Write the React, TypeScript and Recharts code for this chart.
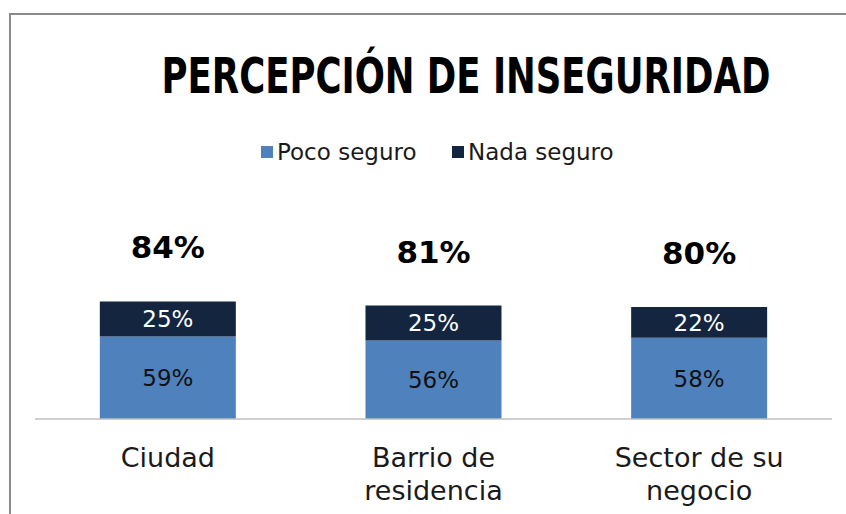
import React, { useLayoutEffect, useRef, useState } from 'react';
import { BarChart, Bar, XAxis, YAxis, LabelList, Legend } from 'recharts';

const categories = ['Ciudad', 'Barrio de residencia', 'Sector de su negocio'];
const categoryLines = [['Ciudad'], ['Barrio de', 'residencia'], ['Sector de su', 'negocio']];
const pocoSeguro = [59, 56, 58];
const nadaSeguro = [25, 25, 22];
const totals = [84, 81, 80];
const seriesNames = ['Poco seguro', 'Nada seguro'];
const seriesColors = ['#4F81BD', '#13253F'];
const title = 'PERCEPCIÓN DE INSEGURIDAD';

const data = categories.map((c, i) => ({
  name: c,
  poco: pocoSeguro[i],
  nada: nadaSeguro[i],
  total: totals[i],
}));

const FONT = "'DejaVu Sans', sans-serif";

const CategoryTick = (props: any) => {
  const { x, y, payload } = props;
  const idx = categories.indexOf(payload.value);
  const lines = idx >= 0 ? categoryLines[idx] : [payload.value];
  return (
    <g>
      {lines.map((l: string, k: number) => (
        <text
          key={k}
          x={x}
          y={y + 38 + k * 33}
          textAnchor="middle"
          dominantBaseline="central"
          fontFamily={FONT}
          fontSize={27}
          fill="#1a1a1a"
        >
          {l}
        </text>
      ))}
    </g>
  );
};

const TotalLabel = (props: any) => {
  const { x, y, width, value } = props;
  return (
    <text
      x={x + width / 2}
      y={y - 54}
      textAnchor="middle"
      dominantBaseline="central"
      fontFamily={FONT}
      fontWeight="bold"
      fontSize={31}
      fill="#000"
    >
      {value}%
    </text>
  );
};

const LegendContent = () => (
  <div style={{ position: 'relative', width: 846, height: 30 }}>
    {seriesNames.map((n, i) => (
      <div
        key={n}
        style={{
          position: 'absolute',
          left: i === 0 ? 261 : 452,
          top: 0,
          display: 'flex',
          alignItems: 'center',
          height: 30,
          fontFamily: FONT,
          fontSize: 23,
          color: '#1a1a1a',
          whiteSpace: 'nowrap',
        }}
      >
        <span style={{ display: 'inline-block', width: 12, height: 12, background: seriesColors[i], marginRight: 4 }} />
        <span>{n}</span>
      </div>
    ))}
  </div>
);

const Title = () => {
  const ref = useRef<SVGTextElement>(null);
  const [sx, setSx] = useState(0.65);
  useLayoutEffect(() => {
    if (ref.current) {
      const len = ref.current.getComputedTextLength();
      if (len > 0) setSx(609 / len);
    }
  }, []);
  return (
    <svg style={{ position: 'absolute', left: 0, top: 0 }} width={846} height={120}>
      <g transform={`translate(466,93) scale(${sx},1)`}>
        <text
          ref={ref}
          x={0}
          y={0}
          textAnchor="middle"
          fontFamily={FONT}
          fontWeight="bold"
          fontSize={49}
          fill="#000"
        >
          {title}
        </text>
      </g>
    </svg>
  );
};

export default function App() {
  return (
    <div style={{ position: 'absolute', left: 0, top: 0, width: 846, height: 514, background: '#fff', overflow: 'hidden' }}>
      <div
        style={{
          position: 'absolute',
          left: 9,
          top: 13,
          width: 900,
          height: 600,
          borderTop: '2px solid #8a8a8a',
          borderLeft: '2px solid #8a8a8a',
        }}
      />
      <Title />
      <div style={{ position: 'absolute', left: 0, top: 0 }}>
        <BarChart
          width={846}
          height={514}
          data={data}
          margin={{ top: 279, right: 14, bottom: 35, left: 35 }}
          barCategoryGap="24.4%"
        >
          <XAxis
            dataKey="name"
            height={60}
            tickLine={false}
            tickSize={0}
            tickMargin={0}
            axisLine={{ stroke: '#BFBFBF', strokeWidth: 1.5 }}
            tick={<CategoryTick />}
            interval={0}
          />
          <YAxis hide domain={[0, 100]} />
          <Legend
            verticalAlign="middle"
            layout="horizontal"
            wrapperStyle={{ position: 'absolute', top: 137, left: 0, width: 846 }}
            content={<LegendContent />}
          />
          <Bar dataKey="poco" name={seriesNames[0]} stackId="a" fill={seriesColors[0]} isAnimationActive={false}>
            <LabelList
              dataKey="poco"
              position="center"
              formatter={(v: any) => `${v}%`}
              fill="#111"
              fontSize={23}
              fontFamily={FONT}
            />
          </Bar>
          <Bar dataKey="nada" name={seriesNames[1]} stackId="a" fill={seriesColors[1]} isAnimationActive={false}>
            <LabelList
              dataKey="nada"
              position="center"
              formatter={(v: any) => `${v}%`}
              fill="#fff"
              fontSize={23}
              fontFamily={FONT}
            />
            <LabelList dataKey="total" content={<TotalLabel />} />
          </Bar>
        </BarChart>
      </div>
    </div>
  );
}
